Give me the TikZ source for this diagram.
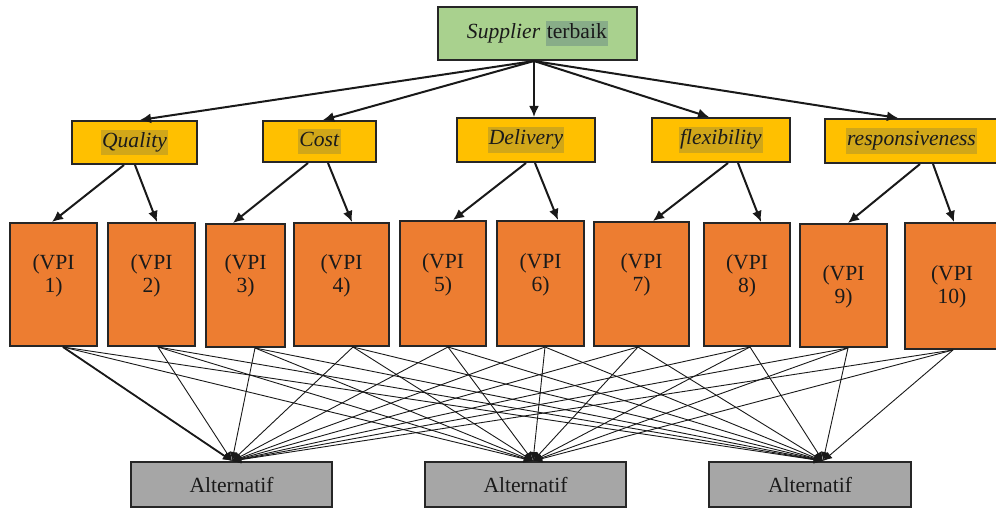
\documentclass[tikz,border=0pt]{standalone}
\usepackage{fontspec}
\setmainfont{Liberation Serif}
\usetikzlibrary{arrows.meta}
\definecolor{gbox}{HTML}{A9D18E}
\definecolor{ghl}{HTML}{88AD88}
\definecolor{ybox}{HTML}{FFC000}
\definecolor{yhl}{HTML}{D1A719}
\definecolor{obox}{HTML}{ED7D31}
\definecolor{abox}{HTML}{A6A6A6}
\definecolor{txt}{HTML}{1A1A1A}
\newcommand{\hlbox}[2]{{\fboxsep=0.6pt\colorbox{#1}{\strut #2}}}
\tikzset{
  base/.style={draw=black!85, line width=1pt, rectangle, inner sep=0pt, text=txt,
    font=\fontsize{10.8}{11.5}\selectfont, align=center},
  topbox/.style={base, fill=gbox},
  critbox/.style={base, fill=ybox},
  vpibox/.style={base, fill=obox},
  altbox/.style={base, fill=abox},
  vpitext/.style={text=txt, font=\fontsize{10.8}{11.5}\selectfont, align=center},
  mainarrow/.style={line width=1pt, draw=black!90, -{Latex[length=5.5pt,width=5pt]}},
  thinarrow/.style={line width=0.45pt, draw=black!90, -{Latex[length=4.5pt,width=4pt]}},
}
\begin{document}
\begin{tikzpicture}[x=0.5pt,y=-0.5pt]
\useasboundingbox (0,0) rectangle (996,508);
% top
\node[topbox, minimum width=99.5pt, minimum height=26.5pt] (top) at (537.5,33.5)
  {\raisebox{-1pt}{\textit{Supplier} \hlbox{ghl}{terbaik}}};
% criteria
\node[critbox, minimum width=62.5pt, minimum height=21.5pt] (q) at (134.5,142.5) {\raisebox{-1pt}{\hlbox{yhl}{\textit{Quality}}}};
\node[critbox, minimum width=56.5pt, minimum height=20.5pt] (c) at (319.5,141.5) {\raisebox{-1pt}{\hlbox{yhl}{\textit{Cost}}}};
\node[critbox, minimum width=69pt, minimum height=22pt] (d) at (526,140) {\raisebox{-0.5pt}{\hlbox{yhl}{\textit{Delivery}}}};
\node[critbox, minimum width=69pt, minimum height=22pt] (f) at (721,140) {\raisebox{-0.5pt}{\hlbox{yhl}{\textit{flexibility}}}};
\node[critbox, minimum width=86.5pt, minimum height=22pt] (r) at (911.5,141) {\raisebox{-1pt}{\hlbox{yhl}{\textit{responsiveness}}}};
% VPI boxes
\node[vpibox, minimum width=43.5pt, minimum height=61.5pt, label={[name=v1t,vpitext,yshift=4.5pt]center:(VPI\\1)}] (v1) at (53.5,284.5) {};
\node[vpibox, minimum width=43.5pt, minimum height=61.5pt, label={[name=v2t,vpitext,yshift=4.5pt]center:(VPI\\2)}] (v2) at (151.5,284.5) {};
\node[vpibox, minimum width=39.5pt, minimum height=61.5pt, label={[name=v3t,vpitext,yshift=5pt]center:(VPI\\3)}] (v3) at (245.5,285.5) {};
\node[vpibox, minimum width=47.5pt, minimum height=61.5pt, label={[name=v4t,vpitext,yshift=4.5pt]center:(VPI\\4)}] (v4) at (341.5,284.5) {};
\node[vpibox, minimum width=43pt, minimum height=62.5pt, label={[name=v5t,vpitext,yshift=4.5pt]center:(VPI\\5)}] (v5) at (443,283.5) {};
\node[vpibox, minimum width=43.5pt, minimum height=62.5pt, label={[name=v6t,vpitext,yshift=4.5pt]center:(VPI\\6)}] (v6) at (540.5,283.5) {};
\node[vpibox, minimum width=47.5pt, minimum height=62pt, label={[name=v7t,vpitext,yshift=4.5pt]center:(VPI\\7)}] (v7) at (641.5,284) {};
\node[vpibox, minimum width=43pt, minimum height=61.5pt, label={[name=v8t,vpitext,yshift=4.5pt]center:(VPI\\8)}] (v8) at (747,284.5) {};
\node[vpibox, minimum width=43.5pt, minimum height=61.5pt, label={[name=v9t,vpitext,yshift=-0.5pt]center:(VPI\\9)}] (v9) at (843.5,285.5) {};
\node[vpibox, minimum width=47pt, minimum height=63pt, label={[name=v10t,vpitext,yshift=-0.5pt]center:(VPI\\10)}] (v10) at (952,286) {};
% alternatives
\node[altbox, minimum width=100.5pt, minimum height=22.5pt] (a1) at (231.5,484.5) {Alternatif};
\node[altbox, minimum width=100.5pt, minimum height=22.5pt] (a2) at (525.5,484.5) {Alternatif};
\node[altbox, minimum width=101pt, minimum height=22.5pt] (a3) at (810,484.5) {Alternatif};
% VPI -> alternatives
\foreach \v/\s in {v1/4.75pt, v2/3.25pt, v3/4.75pt, v4/5.75pt, v5/2.5pt, v6/2.25pt, v7/-1.75pt, v8/1.5pt, v9/2.25pt, v10/0.5pt}{
  \foreach \a/\t in {a1/0.25pt, a2/3.75pt, a3/6.5pt}{
    \draw[thinarrow] ([xshift=\s]\v.south) -- ([xshift=\t]\a.north);
  }
}
\draw[thinarrow, line width=0.9pt] ([xshift=4.75pt]v1.south) -- ([xshift=0.25pt]a1.north);
% top -> criteria
\draw[mainarrow] ([xshift=-1.75pt]top.south) -- ([xshift=2.75pt]q.north);
\draw[mainarrow] ([xshift=-1.75pt]top.south) -- ([xshift=1.75pt]c.north);
\draw[mainarrow] ([xshift=-1.75pt]top.south) -- ([xshift=4pt]d.north);
\draw[mainarrow] ([xshift=-1.75pt]top.south) -- ([xshift=-6pt]f.north);
\draw[mainarrow] ([xshift=-1.75pt]top.south) -- ([xshift=-6.75pt]r.north);
% criteria -> VPI
\draw[mainarrow] ([xshift=-5.25pt]q.south) -- ([xshift=-0.75pt]v1.north);
\draw[mainarrow] ([xshift=0.25pt]q.south) -- ([xshift=2.75pt]v2.north);
\draw[mainarrow] ([xshift=-5.75pt]c.south) -- ([xshift=-6.25pt]v3.north);
\draw[mainarrow] ([xshift=4.25pt]c.south) -- ([xshift=5.25pt]v4.north);
\draw[mainarrow] ([xshift=0pt]d.south) -- ([xshift=5pt]v5.north);
\draw[mainarrow] ([xshift=4.5pt]d.south) -- ([xshift=8.75pt]v6.north);
\draw[mainarrow] ([xshift=3.5pt]f.south) -- ([xshift=5.75pt]v7.north);
\draw[mainarrow] ([xshift=8.5pt]f.south) -- ([xshift=7pt]v8.north);
\draw[mainarrow] ([xshift=4.25pt]r.south) -- ([xshift=2.25pt]v9.north);
\draw[mainarrow] ([xshift=10.75pt]r.south) -- ([xshift=1pt]v10.north);
\end{tikzpicture}
\end{document}
